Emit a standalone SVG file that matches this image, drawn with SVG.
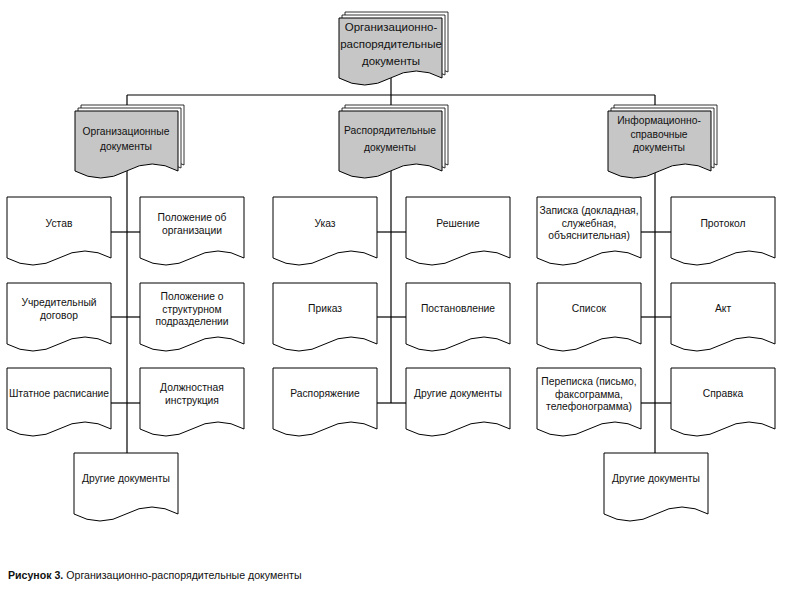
<svg xmlns="http://www.w3.org/2000/svg" width="794" height="595" viewBox="0 0 794 595">
<style>
  .doc{fill:#fff;stroke:#000;stroke-width:1}
  .gray{fill:#c6c6c6;stroke:#000;stroke-width:1}
  .back{fill:#fff;stroke:#000;stroke-width:0.8}
  .ln{stroke:#000;stroke-width:1.2;fill:none}
  text{font-family:"Liberation Sans",Arial,sans-serif;fill:#111;text-anchor:middle}
  .t{font-size:10.3px}
  .h{font-size:11.5px}
  .cap{font-size:10.6px;text-anchor:start}
</style>
<defs>
  <path id="d3" d="M0,0 H104 V61 Q78,47 52,61 T0,61 Z"/>
  <path id="md" d="M0,0 H103 V60 Q77.25,46 51.5,60 T0,60 Z"/>
  <g id="multi">
    <use href="#md" class="back" x="6" y="-6"/>
    <use href="#md" class="back" x="3" y="-3"/>
    <use href="#md" class="gray"/>
  </g>
</defs>
<rect width="794" height="595" fill="#fff"/>

<g id="connectors" class="ln">
  <line x1="391" y1="78" x2="391" y2="95"/>
  <line x1="127" y1="95" x2="655" y2="95"/>
  <line x1="127" y1="95" x2="127" y2="105"/>
  <line x1="391" y1="95" x2="391" y2="105"/>
  <line x1="655" y1="95" x2="655" y2="105"/>
  <line x1="127" y1="171" x2="127" y2="453"/>
  <line x1="391" y1="171" x2="391" y2="403"/>
  <line x1="655" y1="171" x2="655" y2="453"/>
  <line x1="111" y1="232" x2="140" y2="232"/>
  <line x1="111" y1="317" x2="140" y2="317"/>
  <line x1="111" y1="403" x2="140" y2="403"/>
  <line x1="377" y1="232" x2="406" y2="232"/>
  <line x1="377" y1="317" x2="406" y2="317"/>
  <line x1="377" y1="403" x2="406" y2="403"/>
  <line x1="641" y1="232" x2="671" y2="232"/>
  <line x1="641" y1="317" x2="671" y2="317"/>
  <line x1="641" y1="403" x2="671" y2="403"/>
</g>

<g id="root">
  <use href="#multi" x="339" y="18"/>
  <text class="h" x="391" y="31">Организационно-</text>
  <text class="h" x="391" y="48">распорядительные</text>
  <text class="h" x="391" y="65">документы</text>
</g>

<g id="org">
  <use href="#multi" x="75" y="111"/>
  <text class="t" x="126" y="135">Организационные</text>
  <text class="t" x="126" y="150">документы</text>
</g>
<g id="rasp">
  <use href="#multi" x="339" y="111"/>
  <text class="t" x="390" y="134">Распорядительные</text>
  <text class="t" x="390" y="151">документы</text>
</g>
<g id="info">
  <use href="#multi" x="608" y="111"/>
  <text class="t" x="659" y="124">Информационно-</text>
  <text class="t" x="659" y="137.5">справочные</text>
  <text class="t" x="659" y="151">документы</text>
</g>

<g id="ustav"><use href="#d3" class="doc" x="7" y="197"/><text class="t" x="59" y="227">Устав</text></g>
<g id="polozh-org"><use href="#d3" class="doc" x="140" y="197"/><text class="t" x="192" y="221">Положение об</text><text class="t" x="192" y="233.5">организации</text></g>
<g id="uchr"><use href="#d3" class="doc" x="7" y="283"/><text class="t" x="59" y="306">Учредительный</text><text class="t" x="59" y="318.5">договор</text></g>
<g id="polozh-str"><use href="#d3" class="doc" x="140" y="283"/><text class="t" x="192" y="300">Положение о</text><text class="t" x="192" y="312.5">структурном</text><text class="t" x="192" y="325">подразделении</text></g>
<g id="shtat"><use href="#d3" class="doc" x="7" y="368"/><text class="t" x="59" y="397">Штатное расписание</text></g>
<g id="dolzh"><use href="#d3" class="doc" x="140" y="368"/><text class="t" x="192" y="391">Должностная</text><text class="t" x="192" y="404">инструкция</text></g>
<g id="other-left"><use href="#d3" class="doc" x="74" y="453"/><text class="t" x="126" y="482">Другие документы</text></g>

<g id="ukaz"><use href="#d3" class="doc" x="273" y="197"/><text class="t" x="325" y="227">Указ</text></g>
<g id="reshenie"><use href="#d3" class="doc" x="406" y="197"/><text class="t" x="458" y="227">Решение</text></g>
<g id="prikaz"><use href="#d3" class="doc" x="273" y="283"/><text class="t" x="325" y="312">Приказ</text></g>
<g id="postanovlenie"><use href="#d3" class="doc" x="406" y="283"/><text class="t" x="458" y="312">Постановление</text></g>
<g id="rasporyazhenie"><use href="#d3" class="doc" x="273" y="368"/><text class="t" x="325" y="397">Распоряжение</text></g>
<g id="other-mid"><use href="#d3" class="doc" x="406" y="368"/><text class="t" x="458" y="397">Другие документы</text></g>

<g id="zapiska"><use href="#d3" class="doc" x="537" y="197"/><text class="t" x="589" y="214">Записка (докладная,</text><text class="t" x="589" y="226.5">служебная,</text><text class="t" x="589" y="239">объяснительная)</text></g>
<g id="protokol"><use href="#d3" class="doc" x="671" y="197"/><text class="t" x="723" y="227">Протокол</text></g>
<g id="spisok"><use href="#d3" class="doc" x="537" y="283"/><text class="t" x="589" y="312">Список</text></g>
<g id="akt"><use href="#d3" class="doc" x="671" y="283"/><text class="t" x="723" y="312">Акт</text></g>
<g id="perepiska"><use href="#d3" class="doc" x="537" y="368"/><text class="t" x="589" y="385">Переписка (письмо,</text><text class="t" x="589" y="397.5">факсограмма,</text><text class="t" x="589" y="410">телефонограмма)</text></g>
<g id="spravka"><use href="#d3" class="doc" x="671" y="368"/><text class="t" x="723" y="397">Справка</text></g>
<g id="other-right"><use href="#d3" class="doc" x="604" y="453"/><text class="t" x="656" y="482">Другие документы</text></g>

<text class="cap" x="8" y="579"><tspan font-weight="bold">Рисунок 3.</tspan> Организационно-распорядительные документы</text>
</svg>
